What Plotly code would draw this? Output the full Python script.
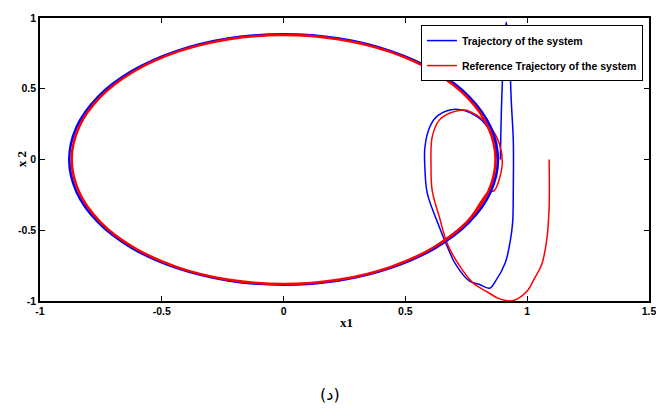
import plotly.graph_objects as go

# Transient (start-up) part of the system trajectory (blue)
sys_x = [0.89, 0.895, 0.905, 0.914, 0.925, 0.935, 0.943, 0.943, 0.94, 0.93, 0.91, 0.87, 0.845, 0.80,
         0.763, 0.706, 0.673, 0.64, 0.59, 0.58, 0.58, 0.60, 0.633, 0.706, 0.788, 0.837, 0.87, 0.878,
         0.865, 0.84, 0.753, 0.615]
sys_y = [0.0, 0.4, 0.8, 0.97, 0.8, 0.4, 0.13, -0.2, -0.45, -0.58, -0.73, -0.86, -0.91, -0.88,
         -0.86, -0.74, -0.62, -0.48, -0.24, -0.06, 0.085, 0.23, 0.31, 0.355, 0.31, 0.23, 0.085, -0.03,
         -0.15, -0.23, -0.44, -0.622]

# Transient part of the reference trajectory (red)
ref_x = [1.09, 1.09, 1.08, 1.06, 1.03, 1.0, 0.96, 0.93, 0.88, 0.84, 0.80, 0.776, 0.722, 0.673,
         0.64, 0.61, 0.605, 0.61, 0.64, 0.686, 0.743, 0.796, 0.849, 0.886, 0.898, 0.89, 0.865,
         0.84, 0.753, 0.615]
ref_y = [0.0, -0.34, -0.57, -0.74, -0.84, -0.93, -0.985, -1.0, -0.98, -0.94, -0.90, -0.87, -0.75, -0.6,
         -0.41, -0.22, -0.03, 0.16, 0.28, 0.33, 0.35, 0.31, 0.23, 0.11, -0.02, -0.11, -0.22,
         -0.23, -0.44, -0.622]

# Limit cycle (ellipse), system (blue)
cyc_sys_x = [0.88, 0.85, 0.762, 0.622, 0.44, 0.228, 0.0, -0.228, -0.44, -0.622, -0.762, -0.85, -0.88,
             -0.85, -0.762, -0.622, -0.44, -0.228, 0.0, 0.228, 0.44, 0.622, 0.762, 0.85, 0.88]
cyc_sys_y = [0.0, 0.229, 0.443, 0.626, 0.766, 0.855, 0.885, 0.855, 0.766, 0.626, 0.443, 0.229, 0.0,
             -0.229, -0.443, -0.626, -0.766, -0.855, -0.885, -0.855, -0.766, -0.626, -0.443, -0.229, 0.0]

# Limit cycle, reference (red)
cyc_ref_x = [0.87, 0.84, 0.753, 0.615, 0.435, 0.225, 0.0, -0.225, -0.435, -0.615, -0.753, -0.84, -0.87,
             -0.84, -0.753, -0.615, -0.435, -0.225, 0.0, 0.225, 0.435, 0.615, 0.753, 0.84, 0.87]
cyc_ref_y = [0.0, 0.228, 0.44, 0.622, 0.762, 0.85, 0.88, 0.85, 0.762, 0.622, 0.44, 0.228, 0.0,
             -0.228, -0.44, -0.622, -0.762, -0.85, -0.88, -0.85, -0.762, -0.622, -0.44, -0.228, 0.0]

x_ticks = [-1, -0.5, 0, 0.5, 1, 1.5]
x_labels = ["-1", "-0.5", "0", "0.5", "1", "1.5"]
y_ticks = [-1, -0.5, 0, 0.5, 1]
y_labels = ["-1", "-0.5", "0", "0.5", "1"]

BLUE = "#0000ff"
RED = "#ff0000"
SANS = "Liberation Sans Narrow, Liberation Sans, Arial, sans-serif"
SERIF = "Liberation Serif, Times New Roman, serif"
tickfont = dict(family=SANS, size=10.5, color="black", weight="bold")

fig = go.Figure()
fig.add_trace(go.Scatter(x=sys_x, y=sys_y, mode="lines", legendgroup="sys",
                         line=dict(color=BLUE, width=1.5, shape="spline", smoothing=1.0),
                         name="Trajectory of the system"))
fig.add_trace(go.Scatter(x=ref_x, y=ref_y, mode="lines", legendgroup="ref",
                         line=dict(color=RED, width=1.5, shape="spline", smoothing=1.0),
                         name="Reference Trajectory of the system"))
fig.add_trace(go.Scatter(x=cyc_sys_x, y=cyc_sys_y, mode="lines", legendgroup="sys",
                         line=dict(color=BLUE, width=2.5, shape="spline"), showlegend=False))
fig.add_trace(go.Scatter(x=cyc_ref_x, y=cyc_ref_y, mode="lines", legendgroup="ref",
                         line=dict(color=RED, width=2.5, shape="spline"), showlegend=False))

axis_common = dict(showgrid=False, zeroline=False, showline=True, linecolor="black", linewidth=1.5,
                   mirror="ticks", ticks="inside", ticklen=5, tickcolor="black", tickwidth=1,
                   tickfont=tickfont, automargin=False, ticklabeloverflow="allow")

fig.update_xaxes(range=[-1, 1.5], tickvals=x_ticks, ticktext=x_labels, **axis_common)
fig.update_yaxes(range=[-1, 1], tickvals=y_ticks, ticktext=y_labels, **axis_common)

fig.update_layout(
    width=656, height=414,
    margin=dict(l=40, r=7, t=18, b=113),
    paper_bgcolor="white", plot_bgcolor="white",
    legend=dict(x=0.99, y=0.975, xanchor="right", yanchor="top",
                bgcolor="white", bordercolor="black", borderwidth=1,
                font=dict(family=SANS, size=10.5, color="black", weight="bold"),
                traceorder="grouped", tracegroupgap=6, itemwidth=30),
    annotations=[
        dict(text="x1", xref="paper", yref="paper", x=0.504, y=-0.075, xanchor="center", yanchor="middle",
             showarrow=False, font=dict(family=SERIF, size=13, color="black", weight="bold")),
        dict(text="x 2", xref="paper", yref="paper", x=-0.03, y=0.5, xanchor="center", yanchor="middle",
             textangle=-90, showarrow=False, font=dict(family=SERIF, size=13, color="black", weight="bold")),
        dict(text="(د)", xref="paper", yref="paper", x=0.477, y=-0.33, xanchor="center", yanchor="middle",
             showarrow=False, font=dict(family="DejaVu Sans, Noto Sans, sans-serif", size=16, color="black")),
    ],
)

fig.write_html("out.html", config={"displayModeBar": False},
               post_script="document.body.style.margin='0';document.body.style.overflow='hidden';")
